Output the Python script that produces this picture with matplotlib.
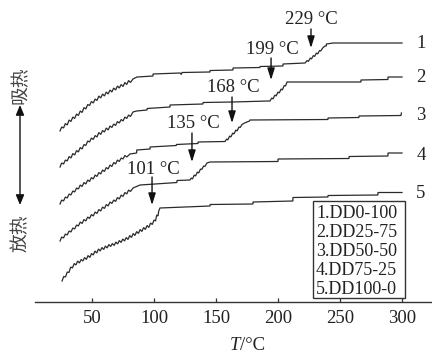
import matplotlib
matplotlib.use("Agg")
import matplotlib.pyplot as plt
from matplotlib.patches import Rectangle

# ---------------- data (T in °C, heat flow in arbitrary units, curves offset) ----------------
T1 = [24.2, 25.5, 27, 28.5, 30, 31.5, 33, 34.5, 36, 37.5, 39, 40.5, 42, 43.5, 45, 46.5, 48, 49.5,
      51, 52.5, 54, 55.5, 57, 58.5, 60, 61.5, 63, 64.5, 66, 67.5, 69, 70.5, 72, 73.5, 75, 76.5,
      78, 79.5, 81, 83, 86.3, 99.2, 99.2, 121, 122, 122.6, 145.2, 145.2, 163.7, 163.7, 185.5,
      185.5, 204, 204, 221.8, 223.5, 224.5, 226, 227, 228.5, 229.5, 231, 232, 233.5, 234.5, 236,
      237.9, 239, 239, 244.4, 300]
H1 = [171, 175, 174, 178.5, 177, 182, 180.5, 185, 183.5, 188, 186.5, 191, 189.5, 194.5, 193, 197.5,
      196.5, 200.5, 199, 203, 201.5, 206, 204, 208, 206, 210, 208, 212, 210, 214, 212, 216, 214,
      217.5, 215.5, 219.5, 217.5, 221.5, 219.5, 223, 225, 226, 228, 229, 227.5, 229.5, 230, 231.5,
      232, 234, 234.5, 235.5, 236, 238, 239, 241.5, 240.5, 244, 243, 246.5, 245.5, 249, 248, 251.5,
      251, 254, 256, 256, 258, 259, 259]

T2 = [24.2, 25.5, 27, 28.5, 30, 31.5, 33, 34.5, 36, 37.5, 39, 40.5, 42, 43.5, 45, 46.5, 48, 49.5,
      51, 52.5, 54, 55.5, 57, 58.5, 60, 61.5, 63, 64.5, 66, 67.5, 69, 70.5, 72, 73.5, 75, 76.5,
      78, 79.5, 81, 83, 86, 94.4, 94.4, 112.9, 112.9, 139.5, 139.5, 163.7, 191.9, 193.5, 195, 196,
      197.5, 198.5, 200, 201, 202.5, 203.5, 205, 206, 207.3, 266.9, 266.9, 288.7, 288.7, 300]
H2 = [135, 139, 138, 142, 141, 145.5, 144, 148.5, 147, 151.5, 150, 154.5, 153, 157.5, 156.5, 161,
      160, 164, 162.5, 166.5, 165, 169.5, 167.5, 171.5, 170, 174, 172, 176, 174.5, 178, 176.5,
      180.5, 179, 182.5, 181, 185, 183.5, 187, 185.5, 190, 191, 192, 193.5, 195, 197, 198, 199.5,
      200, 201, 201, 204, 203, 207, 206, 210, 209, 213, 212, 216.5, 216, 220, 220, 222, 222.5,
      225, 225]

T3 = [24.2, 25.5, 27, 28.5, 30, 31.5, 33, 34.5, 36, 37.5, 39, 40.5, 42, 43.5, 45, 46.5, 48, 49.5,
      51, 52.5, 54, 55.5, 57, 58.5, 60, 61.5, 63, 64.5, 66, 67.5, 69, 70.5, 72, 73.5, 75, 76.5,
      78, 80.6, 86, 86, 96.8, 96.8, 118, 118, 135.5, 135.5, 157.3, 158.5, 159.5, 161, 162, 163.5,
      164.5, 166, 167, 168.5, 169.5, 171, 173, 177, 177.4, 240.3, 240.3, 265.3, 265.3, 299.2, 299.5]
H3 = [98, 102, 101, 105, 104, 108, 107, 111, 110, 114, 113, 117, 115.5, 119.5, 118, 122, 120.5,
      124.5, 123, 127, 125.5, 129.5, 128, 132, 130.5, 134.5, 133, 137, 135.5, 139.5, 138, 142,
      140.5, 144, 143, 146.5, 145, 148, 149, 152, 153, 155, 156.5, 157.5, 158.5, 160, 160.5, 163,
      162, 166, 165, 169, 168, 172, 171, 175, 174.5, 177.5, 179, 181, 182, 182.5, 184, 184.5, 186,
      186.5, 189]

T4 = [24.2, 25.5, 27, 28.5, 30, 31.5, 33, 34.5, 36, 37.5, 39, 40.5, 42, 43.5, 45, 46.5, 48, 49.5,
      51, 52.5, 54, 55.5, 57, 58.5, 60, 61.5, 63, 64.5, 66, 67.5, 69, 70.5, 72, 73.5, 75, 76.5,
      78, 79.5, 81, 83.1, 88.7, 112.9, 118.5, 118.5, 129, 130, 131, 132.5, 133.5, 135, 136, 137.5,
      138.5, 140, 141, 142.7, 145.2, 200, 200, 257.3, 257.3, 288.7, 288.7, 300]
H4 = [61, 65, 64, 68, 67, 71, 70, 74, 73, 77, 76, 80, 78.5, 82.5, 81, 85, 83.5, 87.5, 86, 90, 88.5,
      92.5, 91, 95, 93.5, 97.5, 96, 100, 98.5, 102, 100.5, 104.5, 103, 107, 105.5, 109.5, 108, 112,
      110.5, 114, 117, 119, 119.5, 121.5, 122, 124, 123, 127, 126, 130, 129, 133, 132.5, 136, 135.5,
      139, 140, 140.5, 143, 143.5, 145.5, 146, 149, 149]

T5 = [25.8, 27.2, 28.6, 30, 31.4, 32.8, 34.2, 35.6, 37, 38.4, 39.8, 41.2, 42.6, 44, 45.4, 46.8,
      48.2, 49.6, 51, 52.4, 53.8, 55.2, 56.6, 58, 59.4, 60.8, 62.2, 63.6, 65, 66.4, 67.8, 69.2,
      70.6, 72, 73.4, 74.8, 76.2, 77.6, 79, 80.4, 81.8, 83.2, 84.6, 86, 87.4, 88.8, 90.2, 91.6, 93,
      94.4, 95.8, 97.2, 98.6, 100, 101.2, 102.2, 103.2, 103.8, 104.8, 145.2, 145.2, 179.8, 179.8,
      212, 212, 240.3, 240.3, 280.6, 280.6, 300]
H5 = [21, 25.5, 25, 30, 29.5, 35, 34, 38.5, 37, 41, 39, 42.5, 41, 44.5, 42.5, 46.5, 44.5, 48.5, 47,
      51, 49, 53, 51, 54.5, 52.5, 56, 54, 57.5, 55.5, 58.5, 56.5, 60, 58, 61.5, 59.5, 63, 61, 64.5,
      62.5, 66.5, 64.5, 68.5, 66.5, 70.5, 68.5, 72.5, 70.5, 74.5, 72.5, 76.5, 74.5, 79, 77.5, 82,
      81, 87, 86, 91, 94, 96, 97.5, 98, 100, 101, 104.5, 105, 106.5, 107, 109.5, 109.5]

curves = [(T1, H1), (T2, H2), (T3, H3), (T4, H4), (T5, H5)]
curve_labels = ["1", "2", "3", "4", "5"]
label_T = 315.3
label_H = [259, 225, 186, 147, 109]

# annotations: text, T position, arrow start, arrow end, text height
ann_text = ["229 °C", "199 °C", "168 °C", "135 °C", "101 °C"]
ann_T = [226.6, 194.4, 162.9, 130.6, 98.4]
ann_from = [273, 244, 205, 169, 125]
ann_to = [254, 222, 179, 140, 97]
ann_textH = [282, 252, 214, 179, 132]
ann_textT = [226.6, 195.2, 163.7, 131.4, 99.2]

legend_entries = ["1.DD0-100", "2.DD25-75", "3.DD50-50", "4.DD75-25", "5.DD100-0"]

xticks = [50, 100, 150, 200, 250, 300]

# ---------------- figure ----------------
W, H = 432, 353
fig = plt.figure(figsize=(W / 100, H / 100), dpi=100)
fig.patch.set_facecolor("white")
ax = fig.add_axes([35 / W, 1 - 302 / H, (W - 35) / W, 302 / H])
ax.set_xlim(4.0, 324.2)
ax.set_ylim(0, 302)
ax.patch.set_alpha(0)

serif = ["Liberation Serif", "DejaVu Serif"]
lc = "#2b2b2b"

for T, Hh in curves:
    ax.plot(T, Hh, color=lc, lw=0.9, solid_joinstyle="miter")

for lab, h in zip(curve_labels, label_H):
    ax.text(label_T, h, lab, fontsize=13.5, family=serif, ha="center", va="center", color="#222222")

for txt, t, y0, y1, yt, tt in zip(ann_text, ann_T, ann_from, ann_to, ann_textH, ann_textT):
    ax.annotate("", xy=(t, y1), xytext=(t, y0),
                arrowprops=dict(arrowstyle="-|>,head_length=0.7,head_width=0.22", color="#111111",
                                lw=1.0, shrinkA=0, shrinkB=0))
    ax.text(tt, yt, txt, fontsize=13.5, family=serif, ha="center", va="center", color="#222222")

# legend box
ax.add_patch(Rectangle((0.700, 0.013), 0.232, 0.321, transform=ax.transAxes,
                       fill=False, edgecolor="#333333", lw=1.0))
for i, e in enumerate(legend_entries):
    py = 213 + i * 19.25
    ax.text((316 - 35) / (W - 35), (302 - py) / 302, e, transform=ax.transAxes,
            fontsize=13, family=serif, ha="left", va="center", color="#222222")

# axes styling
for s in ["left", "right", "top"]:
    ax.spines[s].set_visible(False)
ax.spines["bottom"].set_color("#333333")
ax.spines["bottom"].set_linewidth(1.0)
ax.set_yticks([])
ax.set_xticks(xticks)
ax.set_xticklabels([str(v) for v in xticks], family=serif, fontsize=13.5, color="#222222")
ax.tick_params(axis="x", direction="in", length=3, width=0.9, color="#333333", pad=6)

# x label  T/°C
fig.text(240 / W, 1 - 345 / H, "T", fontsize=13.5, family=serif, style="italic",
         ha="right", va="center", color="#222222")
fig.text(240 / W, 1 - 345 / H, "/°C", fontsize=13.5, family=serif,
         ha="left", va="center", color="#222222")

# y side labels with double arrow
cjk = ["Noto Sans CJK SC", "DejaVu Sans"]
fig.text(20 / W, 1 - 85 / H, "吸热", rotation=90, fontsize=13.5, family=cjk, weight="light",
         ha="center", va="center", color="#444444")
fig.text(20 / W, 1 - 233 / H, "放热", rotation=90, fontsize=13.5, family=cjk, weight="light",
         ha="center", va="center", color="#444444")
fig.add_artist(matplotlib.patches.FancyArrowPatch(
    (20 / W, 1 - 205 / H), (20 / W, 1 - 105 / H), transform=fig.transFigure,
    arrowstyle="<|-|>,head_length=6,head_width=2.5", color="#111111", lw=1.0,
    shrinkA=0, shrinkB=0))

fig.savefig("out.png", dpi=100)
